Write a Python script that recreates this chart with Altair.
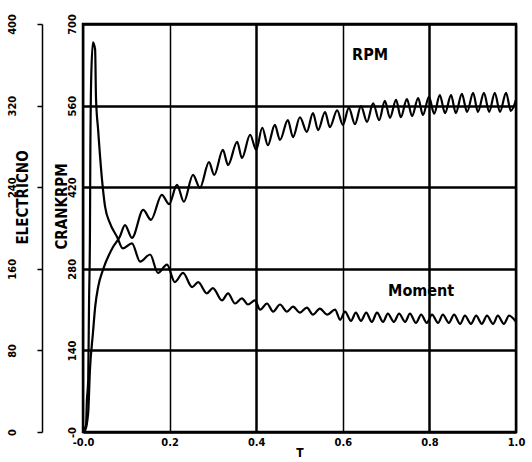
import altair as alt
import pandas as pd

# RPM curve (time T, crank RPM)
rpm_t = [0.0, 0.005, 0.012, 0.016, 0.023, 0.028, 0.035, 0.046, 0.069, 0.085,
         0.097, 0.113, 0.139, 0.157, 0.182, 0.199, 0.217, 0.233, 0.254, 0.270,
         0.291, 0.303, 0.323, 0.335, 0.356, 0.367, 0.386, 0.400, 0.414, 0.427,
         0.443, 0.455, 0.473, 0.485, 0.501, 0.517, 0.531, 0.543, 0.559, 0.570,
         0.587, 0.600, 0.614, 0.628, 0.642, 0.656, 0.670, 0.684, 0.697, 0.709,
         0.723, 0.734, 0.748, 0.760, 0.774, 0.785, 0.799, 0.811, 0.824, 0.836,
         0.850, 0.861, 0.875, 0.887, 0.901, 0.912, 0.926, 0.938, 0.951, 0.963,
         0.977, 0.988, 1.0]
rpm_v = [0, 3, 33, 106, 170, 214, 249, 278, 317, 335,
         355, 333, 381, 364, 407, 391, 424, 395, 441, 419,
         463, 441, 484, 458, 498, 470, 510, 484, 522, 492,
         527, 501, 535, 506, 540, 515, 547, 518, 549, 523,
         552, 527, 556, 528, 559, 532, 564, 535, 568, 539,
         570, 540, 571, 542, 573, 544, 575, 546, 578, 547,
         578, 547, 580, 549, 582, 549, 582, 549, 582, 549,
         582, 551, 570]

# Electric moment curve (time T, moment)
mom_t = [0.0, 0.007, 0.009, 0.012, 0.014, 0.016, 0.017, 0.019, 0.023, 0.028,
         0.030, 0.035, 0.044, 0.051, 0.062, 0.079, 0.092, 0.113, 0.132, 0.155,
         0.173, 0.194, 0.212, 0.231, 0.252, 0.266, 0.286, 0.300, 0.321, 0.335,
         0.351, 0.367, 0.381, 0.397, 0.409, 0.425, 0.439, 0.455, 0.471, 0.485,
         0.501, 0.517, 0.531, 0.547, 0.564, 0.582, 0.594, 0.605, 0.619, 0.630,
         0.642, 0.654, 0.667, 0.679, 0.693, 0.704, 0.718, 0.730, 0.744, 0.755,
         0.769, 0.781, 0.794, 0.806, 0.820, 0.831, 0.845, 0.857, 0.871, 0.882,
         0.896, 0.908, 0.921, 0.933, 0.947, 0.958, 0.972, 0.984, 1.0]
mom_v = [0, 7, 31, 51, 129, 191, 276, 348, 382, 375,
         328, 296, 247, 221, 205, 191, 180, 185, 167, 174,
         156, 164, 147, 156, 142, 147, 136, 141, 129, 136,
         126, 131, 125, 129, 120, 126, 118, 125, 118, 123,
         117, 122, 115, 121, 115, 120, 110, 118, 109, 117,
         109, 117, 108, 117, 108, 116, 108, 116, 108, 116,
         107, 115, 107, 115, 107, 115, 107, 115, 106, 114,
         106, 114, 106, 114, 106, 114, 106, 114, 108]

# Annotations (placed in T / RPM data units)
label_text = ["RPM", "Moment"]
label_t = [0.663, 0.781]
label_v = [647, 242]

x_ticks = [0.0, 0.2, 0.4, 0.6, 0.8, 1.0]
rpm_ticks = [0, 140, 280, 420, 560, 700]
mom_ticks = [0, 80, 160, 240, 320, 400]

FONT = "Liberation Sans Narrow, DejaVu Sans Condensed, DejaVu Sans"

rpm_df = pd.DataFrame({"T": rpm_t, "v": rpm_v})
mom_df = pd.DataFrame({"T": mom_t, "v": mom_v})
lab_df = pd.DataFrame({"T": label_t, "v": label_v, "label": label_text})

x_enc = alt.X(
    "T:Q",
    scale=alt.Scale(domain=[0, 1.0], nice=False, zero=False),
    axis=alt.Axis(
        values=x_ticks,
        title="T",
        labelExpr="datum.value == 0 ? '-0.0' : format(datum.value, '.1f')",
        labelFlush=False,
        grid=True,
        gridColor="black",
        gridWidth={"condition": {"test": "datum.value == 0.4 || datum.value == 0.8", "value": 2.5}, "value": 1.5},
        gridOpacity=1,
        domain=False,
        ticks=False,
        labelPadding=4,
        labelFont=FONT,
        labelFontSize=11,
        labelFontWeight="bold",
        labelColor="black",
        titleFont=FONT,
        titleFontSize=12,
        titleFontWeight="bold",
        titleColor="black",
        titlePadding=0,
    ),
)

mom_line = alt.Chart(mom_df).mark_line(
    color="black", strokeWidth=2.2, interpolate="monotone"
).encode(
    x=x_enc,
    y=alt.Y(
        "v:Q",
        scale=alt.Scale(domain=[0, 400], nice=False),
        axis=alt.Axis(
            orient="left",
            offset=41,
            values=mom_ticks,
            title="ELECTRICNO",
            grid=False,
            domain=True,
            domainColor="black",
            domainWidth=1.5,
            ticks=True,
            tickColor="black",
            tickSize=5,
            tickWidth=1.5,
            labelAngle=-90,
            labelAlign="center",
            labelBaseline="bottom",
            labelPadding=20,
            labelFont=FONT,
            labelFontSize=11,
            labelFontWeight="bold",
            labelColor="black",
            titleFont=FONT,
            titleFontSize=15,
            titleFontWeight="bold",
            titleColor="black",
            titleAngle=-90,
            titleAlign="center",
            titleBaseline="middle",
            titleX=-20,
            titleY=173,
        ),
    ),
)

rpm_line = alt.Chart(rpm_df).mark_line(
    color="black", strokeWidth=2.2, interpolate="monotone"
).encode(
    x=alt.X("T:Q"),
    y=alt.Y(
        "v:Q",
        scale=alt.Scale(domain=[0, 700], nice=False),
        axis=alt.Axis(
            orient="left",
            offset=0,
            values=rpm_ticks,
            title="CRANKRPM",
            grid=True,
            gridColor="black",
            gridWidth=2.5,
            gridOpacity=1,
            domain=False,
            ticks=False,
            labelAngle=-90,
            labelAlign="center",
            labelBaseline="bottom",
            labelPadding=6,
            labelExpr="datum.value == 0 ? '-0' : datum.label",
            labelFont=FONT,
            labelFontSize=11,
            labelFontWeight="bold",
            labelColor="black",
            titleFont=FONT,
            titleFontSize=15,
            titleFontWeight="bold",
            titleColor="black",
            titleAngle=-90,
            titleAlign="center",
            titleBaseline="middle",
            titleX=-22,
            titleY=182,
        ),
    ),
)

labels = alt.Chart(lab_df).mark_text(
    font=FONT, fontSize=16, fontWeight="bold", color="black"
).encode(
    x=alt.X("T:Q"),
    y=alt.Y("v:Q", scale=alt.Scale(domain=[0, 700], nice=False), axis=None),
    text="label:N",
)

chart = (
    alt.layer(mom_line, rpm_line, labels)
    .resolve_scale(y="independent")
    .properties(
        width=433,
        height=408,
        autosize=alt.AutoSizeParams(type="none"),
        padding={"left": 83, "top": 24, "right": 16, "bottom": 30},
        background="white",
    )
    .configure_view(stroke="black", strokeWidth=2.5)
)

chart.save("out.html", embed_options={"renderer": "svg", "actions": False})
